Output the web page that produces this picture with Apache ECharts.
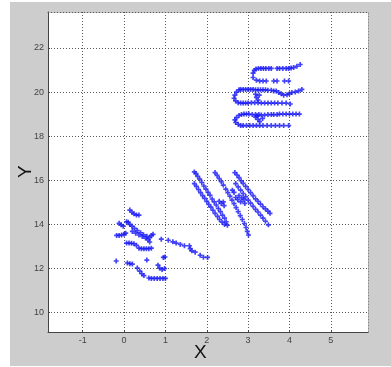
<!DOCTYPE html>
<html>
<head>
<meta charset="utf-8">
<script src="https://cdn.jsdelivr.net/npm/echarts@6/dist/echarts.min.js"></script>
<style>
  html, body { margin: 0; padding: 0; background: #fff; }
  #chart { width: 391px; height: 367px; }
</style>
</head>
<body>
<div id="chart"></div>
<script>
// tick labels
const xTicks = [-1, 0, 1, 2, 3, 4, 5];
const yTicks = [10, 12, 14, 16, 18, 20, 22];

// lower-left group
const lowerCluster = [
  [0.14, 14.65], [0.19, 14.55], [0.24, 14.48], [0.3, 14.42], [0.36, 14.42],
  [-0.12, 14.05], [-0.07, 13.98], [-0.02, 13.92], [0.06, 14.12], [0.1, 14.1],
  [0.14, 14.0], [0.19, 13.92], [0.25, 13.82], [0.32, 13.72], [0.4, 13.62],
  [0.47, 13.53], [0.55, 13.46], [0.62, 13.4], [0.66, 13.5], [0.7, 13.55],
  [-0.18, 13.5], [-0.12, 13.5], [-0.06, 13.52], [0.0, 13.55], [0.04, 13.6],
  [0.2, 13.68], [0.28, 13.6], [0.36, 13.52], [0.44, 13.45], [0.52, 13.38],
  [0.58, 13.3], [0.62, 13.2],
  [0.06, 13.15], [0.12, 13.15], [0.18, 13.14], [0.24, 13.12], [0.3, 13.05],
  [0.36, 12.92], [0.42, 12.9], [0.48, 12.9], [0.54, 12.9], [0.6, 12.9], [0.66, 12.92],
  [0.9, 13.33],
  [1.07, 13.28], [1.18, 13.21], [1.26, 13.15], [1.36, 13.09], [1.46, 13.03],
  [1.58, 13.03], [1.6, 12.9], [1.64, 12.8], [1.72, 12.74], [1.84, 12.6],
  [1.92, 12.51], [2.02, 12.5],
  [-0.19, 12.34], [0.08, 12.25], [0.14, 12.22], [0.2, 12.2], [0.32, 12.02],
  [0.38, 11.88], [0.43, 11.76], [0.48, 11.68], [0.55, 12.38],
  [0.6, 11.57], [0.66, 11.55], [0.73, 11.55], [0.8, 11.55], [0.87, 11.55],
  [0.94, 11.55], [1.0, 11.55],
  [0.82, 12.15], [0.86, 12.02], [0.92, 11.95], [0.98, 12.0], [0.95, 12.5], [0.99, 12.52]
];

// middle group of slanted streaks
const middleCluster = [
  [1.70, 16.38], [1.74, 16.30], [1.78, 16.18], [1.83, 16.05], [1.88, 15.90],
  [1.93, 15.74], [1.98, 15.60], [2.03, 15.45], [2.08, 15.32], [2.13, 15.15],
  [2.18, 15.02], [2.23, 14.88], [2.28, 14.72], [2.33, 14.58], [2.38, 14.42],
  [2.43, 14.28], [2.47, 14.12], [2.50, 13.96],
  [1.70, 15.85], [1.75, 15.72], [1.80, 15.58], [1.85, 15.44], [1.90, 15.30],
  [1.95, 15.18], [2.00, 15.04], [2.05, 14.90], [2.10, 14.78], [2.15, 14.64],
  [2.20, 14.50], [2.26, 14.36], [2.31, 14.22], [2.37, 14.10], [2.43, 14.00],
  [2.35, 14.95], [2.42, 14.85], [2.40, 15.02], [2.30, 15.05],
  [2.20, 16.35], [2.25, 16.22], [2.30, 16.08], [2.35, 15.94], [2.40, 15.78],
  [2.46, 15.60], [2.51, 15.44], [2.56, 15.28], [2.61, 15.10], [2.66, 14.94],
  [2.71, 14.76], [2.76, 14.58], [2.81, 14.40], [2.86, 14.22], [2.91, 14.04],
  [2.95, 13.86], [2.98, 13.68], [3.01, 13.52],
  [2.68, 16.35], [2.73, 16.24], [2.78, 16.12], [2.83, 15.98], [2.88, 15.86],
  [2.94, 15.72], [3.00, 15.58], [3.06, 15.44], [3.12, 15.30], [3.18, 15.16],
  [3.24, 15.04], [3.30, 14.92], [3.36, 14.80], [3.42, 14.70], [3.48, 14.60],
  [3.53, 14.50],
  [2.70, 15.85], [2.76, 15.70], [2.82, 15.55], [2.88, 15.40], [2.94, 15.26],
  [3.00, 15.10], [3.06, 14.96], [3.12, 14.82], [3.18, 14.68], [3.24, 14.56],
  [3.30, 14.42], [3.36, 14.28], [3.42, 14.14], [3.49, 13.98],
  [2.62, 15.55], [2.66, 15.45], [2.78, 15.30], [2.85, 15.20], [2.90, 15.12],
  [2.82, 15.02], [2.75, 15.12], [2.92, 14.95], [2.70, 15.22]
];

// upper-right group of rows
const upperCluster = [
  [3.12, 20.66], [3.12, 20.86], [3.15, 20.98], [3.19, 21.05], [3.25, 21.07],
  [3.31, 21.07], [3.37, 21.07], [3.43, 21.07], [3.5, 21.07], [3.56, 21.07],
  [3.7, 21.07], [3.76, 21.07], [3.84, 21.07], [3.92, 21.07], [3.98, 21.07],
  [4.04, 21.09], [4.1, 21.11], [4.18, 21.17], [4.26, 21.25],
  [3.2, 20.54], [3.28, 20.5], [3.36, 20.5], [3.44, 20.5], [3.62, 20.5],
  [3.7, 20.5], [3.88, 20.5], [3.98, 20.5],
  [2.78, 20.1], [2.82, 20.12], [2.88, 20.12], [2.94, 20.12], [3.0, 20.12],
  [3.06, 20.12], [3.12, 20.12], [3.18, 20.1], [3.24, 20.1], [3.3, 20.1],
  [3.36, 20.1], [3.42, 20.1], [3.48, 20.08], [3.56, 20.08], [3.62, 20.05],
  [3.68, 20.05], [3.74, 19.98], [3.8, 19.92], [3.86, 19.86], [3.94, 19.88],
  [4.0, 19.92], [4.06, 19.98], [4.14, 20.0], [4.22, 20.05], [4.3, 20.12],
  [2.72, 20.0], [2.68, 19.86], [2.66, 19.72], [2.7, 19.6], [2.76, 19.52],
  [3.18, 19.9], [3.2, 19.76], [3.24, 19.64], [3.27, 19.86],
  [2.82, 19.5], [2.88, 19.5], [2.94, 19.5], [3.0, 19.5], [3.08, 19.52],
  [3.16, 19.52], [3.24, 19.52], [3.32, 19.5], [3.4, 19.5], [3.48, 19.5],
  [3.56, 19.5], [3.64, 19.5], [3.72, 19.5], [3.82, 19.5], [3.92, 19.5], [4.02, 19.46],
  [2.78, 18.94], [2.84, 18.98], [2.9, 19.0], [2.96, 19.0], [3.02, 19.0],
  [3.1, 18.98], [3.18, 18.98], [3.26, 18.98], [3.32, 18.96], [3.4, 18.96],
  [3.48, 18.98], [3.56, 18.98], [3.62, 18.98], [3.7, 18.98], [3.76, 19.0],
  [3.84, 19.0], [3.92, 19.0], [4.0, 19.0], [4.08, 19.0], [4.16, 19.0], [4.24, 19.0],
  [2.72, 18.84], [2.68, 18.74], [2.7, 18.62], [2.76, 18.54],
  [3.18, 18.86], [3.24, 18.76], [3.28, 18.66], [3.35, 18.8], [3.22, 18.92],
  [2.82, 18.48], [2.88, 18.48], [2.96, 18.48], [3.04, 18.48], [3.12, 18.48],
  [3.2, 18.48], [3.28, 18.48], [3.36, 18.48], [3.46, 18.48], [3.56, 18.48],
  [3.66, 18.48], [3.76, 18.48], [3.86, 18.48], [3.98, 18.48]
];

const chart = echarts.init(document.getElementById('chart'));

const plus = 'path://M2,0H4V2H6V4H4V6H2V4H0V2H2Z';
const pointSeries = (data) => ({
  type: 'scatter',
  data: data,
  symbol: plus,
  symbolSize: 5,
  itemStyle: { color: '#1414f5' },
  silent: true
});

const fontFamily = '"Liberation Sans", Arial, sans-serif';
const gridLine = { show: true, lineStyle: { type: [1, 2], color: '#5a5a5a', width: 1 } };

chart.setOption({
  animation: false,
  backgroundColor: '#fff',
  graphic: [
    { type: 'rect', left: 10, top: 2, z: -10, shape: { width: 381, height: 364 }, style: { fill: '#cdcdcd' } },
    { type: 'text', left: 194, top: 343, style: { text: 'X', fontSize: 19, fill: '#111', fontFamily: fontFamily } },
    { type: 'text', x: 16, y: 178, rotation: Math.PI / 2, style: { text: 'Y', fontSize: 19, fill: '#111', fontFamily: fontFamily } }
  ],
  grid: { left: 48, top: 12, right: 23, bottom: 35, show: true, backgroundColor: '#fff', borderWidth: 0 },
  xAxis: [
    {
      type: 'value', min: -1.84, max: 5.9,
      axisLine: { onZero: false, lineStyle: { color: '#444' } },
      axisTick: { inside: true, length: 2, customValues: xTicks, lineStyle: { color: '#444' } },
      axisLabel: { customValues: xTicks, fontSize: 9, color: '#444', margin: 4, fontFamily: fontFamily },
      splitLine: gridLine
    },
    {
      type: 'value', position: 'top', min: -1.84, max: 5.9,
      axisLine: { onZero: false, lineStyle: { color: '#5a5a5a', type: [1, 2] } },
      axisTick: { show: false }, axisLabel: { show: false }, splitLine: { show: false }
    }
  ],
  yAxis: [
    {
      type: 'value', min: 9.12, max: 23.63,
      axisLine: { onZero: false, lineStyle: { color: '#444' } },
      axisTick: { inside: true, length: 2, customValues: yTicks, lineStyle: { color: '#444' } },
      axisLabel: { customValues: yTicks, fontSize: 9, color: '#444', margin: 4, fontFamily: fontFamily },
      splitLine: gridLine
    },
    {
      type: 'value', position: 'right', min: 9.12, max: 23.63,
      axisLine: { show: true, onZero: false, lineStyle: { color: '#888', type: [1, 2] } },
      axisTick: { show: false }, axisLabel: { show: false }, splitLine: { show: false }
    }
  ],
  series: [
    pointSeries(lowerCluster),
    pointSeries(middleCluster),
    pointSeries(upperCluster)
  ]
});
</script>
</body>
</html>
